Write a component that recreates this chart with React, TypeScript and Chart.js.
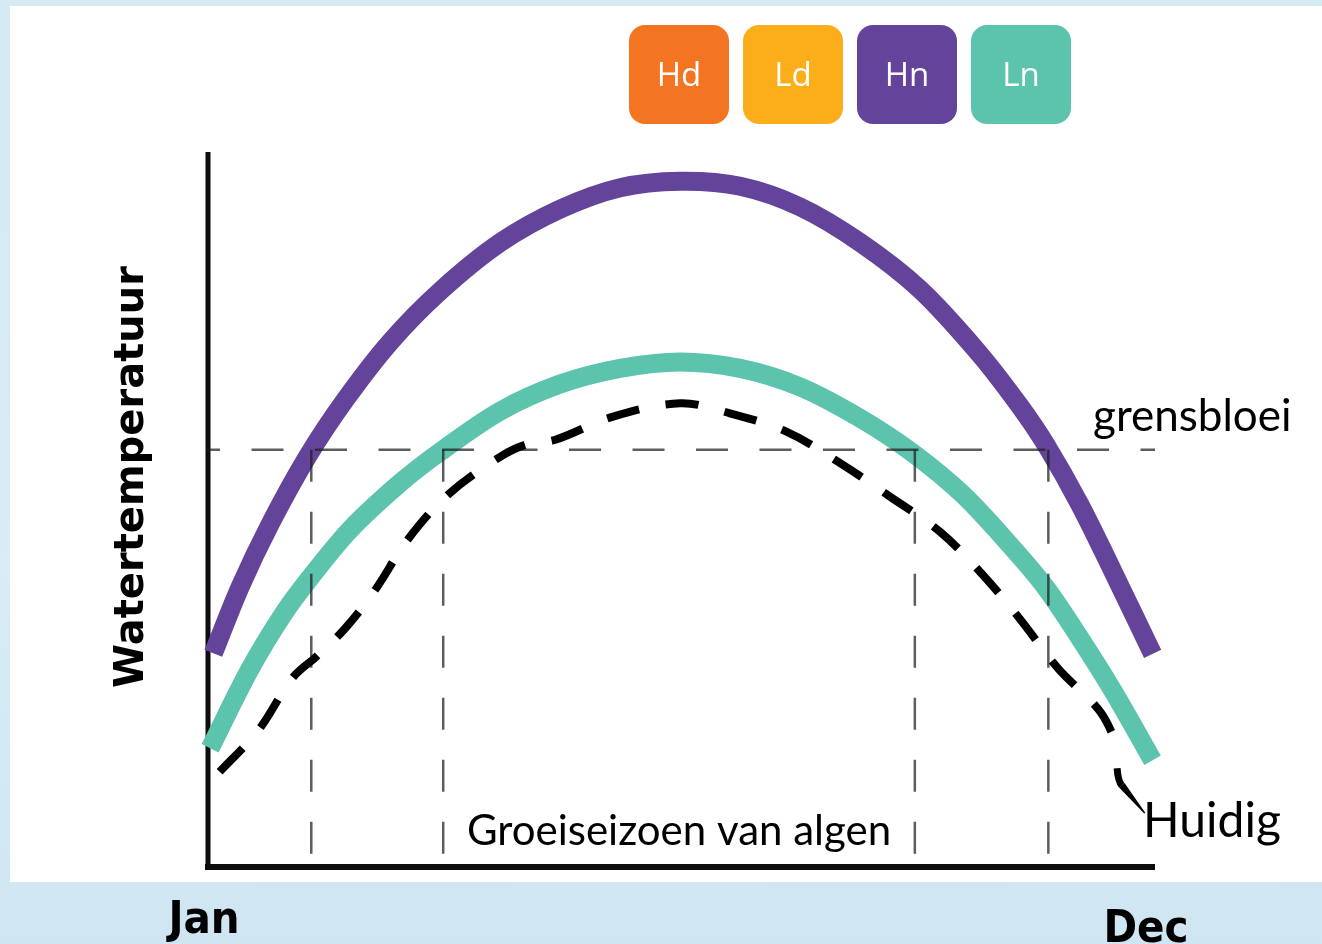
import React, { useEffect, useRef } from 'react';
import { Chart, registerables } from 'chart.js';

Chart.register(...registerables);

// x: months from Jan (0) to Dec (12); y: relative water temperature (0-100)
const xLabels = ['Jan', 'Dec'];
const xLabelValues = [0, 12];

const hnX = [0.08, 0.42, 0.8, 1.27, 1.75, 2.32, 2.95, 3.71, 4.47, 5.23, 5.99, 6.75, 7.51, 8.27, 9.03, 9.78, 10.29, 10.63, 11.05, 11.47, 11.97];
const hnY = [29.8, 39.1, 47.9, 57.3, 65.3, 73.4, 80.5, 87.3, 92.0, 95.0, 95.9, 95.2, 92.3, 87.3, 80.7, 71.7, 64.4, 58.8, 50.6, 41.2, 29.7];

const lnX = [0.04, 0.54, 0.96, 1.3, 1.81, 2.44, 2.95, 3.71, 4.47, 5.23, 5.99, 6.75, 7.51, 8.27, 8.94, 9.57, 10.2, 10.63, 11.05, 11.47, 11.97];
const lnY = [16.5, 27.5, 35.2, 40.3, 47.1, 53.6, 58.0, 63.7, 67.5, 69.7, 70.6, 69.7, 67.1, 62.7, 57.8, 52.0, 44.5, 38.8, 31.9, 24.5, 14.8];

const huidigX = [0.16, 0.65, 1.08, 1.39, 1.75, 2.13, 2.54, 3.05, 3.68, 4.03, 4.41, 5.13, 5.99, 6.62, 7.34, 7.99, 8.65, 9.28, 9.81, 10.29, 10.77, 11.3, 11.53];
const huidigY = [13.2, 19.0, 26.3, 29.4, 33.3, 38.7, 45.7, 52.0, 57.1, 59.0, 59.7, 62.9, 64.8, 63.4, 60.8, 56.6, 51.7, 46.8, 40.9, 34.6, 27.7, 21.7, 16.9];

// callout from the Huidig curve to its label
const huidigLeaderX = [11.52, 11.58, 11.87];
const huidigLeaderY = [13.7, 11.3, 7.4];

const grensbloei = [58.3];
const seasonBounds = [1.32, 2.99, 8.96, 10.65];
const seasonBottom = [1.2];

const legendLabels = ['Hd', 'Ld', 'Hn', 'Ln'];
const legendColors = ['#F37521', '#FBAE1A', '#64449B', '#5CC3AD'];

const toPts = (xs: number[], ys: number[]) => xs.map((x, i) => ({ x, y: ys[i] }));

export default function App() {
  const ref = useRef<HTMLCanvasElement>(null);

  useEffect(() => {
    const canvas = ref.current!;
    const guideColor = 'rgba(30,30,30,0.72)';

    const decor = {
      id: 'decor',
      beforeDatasetsDraw(chart: any) {
        const { ctx, chartArea: ca } = chart;
        ctx.save();
        ctx.strokeStyle = '#0d0d0d';
        ctx.lineCap = 'butt';
        ctx.lineWidth = 5;
        ctx.beginPath();
        ctx.moveTo(ca.left + 1, ca.top);
        ctx.lineTo(ca.left + 1, ca.bottom + 4);
        ctx.stroke();
        ctx.lineWidth = 6;
        ctx.beginPath();
        ctx.moveTo(ca.left - 2, ca.bottom + 1);
        ctx.lineTo(ca.right, ca.bottom + 1);
        ctx.stroke();
        ctx.restore();
      },
      afterDatasetsDraw(chart: any) {
        const { ctx, scales } = chart;
        const xs = scales.x;
        const ys = scales.y;
        ctx.save();

        // leader line of "Huidig"
        const lp = huidigLeaderX.map((x, i) => ({ x: xs.getPixelForValue(x), y: ys.getPixelForValue(huidigLeaderY[i]) }));
        ctx.strokeStyle = '#000';
        ctx.lineWidth = 7;
        ctx.lineCap = 'butt';
        ctx.beginPath();
        ctx.moveTo(lp[0].x, lp[0].y);
        ctx.quadraticCurveTo(lp[0].x + 1, lp[1].y - 4, lp[1].x, lp[1].y);
        ctx.stroke();
        const dx = lp[2].x - lp[1].x;
        const dy = lp[2].y - lp[1].y;
        const len = Math.hypot(dx, dy);
        const nx = -dy / len;
        const ny = dx / len;
        ctx.fillStyle = '#000';
        ctx.beginPath();
        ctx.moveTo(lp[1].x + nx * 3.5, lp[1].y + ny * 3.5);
        ctx.lineTo(lp[2].x + nx * 0.7, lp[2].y + ny * 0.7);
        ctx.lineTo(lp[2].x - nx * 0.7, lp[2].y - ny * 0.7);
        ctx.lineTo(lp[1].x - nx * 3.5, lp[1].y - ny * 3.5);
        ctx.closePath();
        ctx.fill();

        // texts
        ctx.fillStyle = '#000';
        ctx.textBaseline = 'alphabetic';

        ctx.save();
        ctx.translate(143, 477);
        ctx.rotate(-Math.PI / 2);
        ctx.textAlign = 'center';
        ctx.font = "bold 40px 'DejaVu Sans'";
        ctx.fillText('Watertemperatuur', 0, 0);
        ctx.restore();

        ctx.textAlign = 'center';
        ctx.font = "bold 45px 'DejaVu Sans Condensed', 'DejaVu Sans'";
        ctx.fillText(xLabels[0], xs.getPixelForValue(xLabelValues[0]) - 3, 933);
        ctx.fillText(xLabels[1], xs.getPixelForValue(xLabelValues[1]) - 9, 942);

        ctx.textAlign = 'left';
        ctx.font = "44px Lato";
        ctx.fillText('grensbloei', 1093, ys.getPixelForValue(grensbloei[0]) - 19);

        ctx.textAlign = 'center';
        ctx.font = "42px Lato";
        ctx.fillText('Groeiseizoen van algen', 679, 845);

        ctx.textAlign = 'left';
        ctx.font = "48px Lato";
        ctx.fillText('Huidig', 1143, 837);

        // legend tiles
        legendLabels.forEach((lab, i) => {
          const bx = 629 + i * 114;
          const by = 25;
          ctx.fillStyle = legendColors[i];
          ctx.beginPath();
          (ctx as any).roundRect(bx, by, 100, 99, 16);
          ctx.fill();
          ctx.fillStyle = '#ffffff';
          ctx.textAlign = 'center';
          ctx.textBaseline = 'alphabetic';
          ctx.font = "33px 'Open Sans'";
          ctx.fillText(lab, bx + 50, by + 61);
        });

        ctx.restore();
      },
    };

    const lineBase = { pointRadius: 0, fill: false, clip: false as any, borderCapStyle: 'butt' as const };

    const verticals = seasonBounds.map((v) => ({
      ...lineBase,
      label: 'seizoen',
      data: [{ x: v, y: grensbloei[0] }, { x: v, y: seasonBottom[0] }],
      borderColor: guideColor,
      borderWidth: 2.5,
      borderDash: [32, 30],
      tension: 0,
    }));

    const chart = new Chart(canvas, {
      type: 'line',
      data: {
        datasets: [
          {
            ...lineBase,
            label: 'Huidig',
            data: toPts(huidigX, huidigY),
            borderColor: '#000',
            borderWidth: 8,
            borderDash: [33, 27],
            tension: 0.35,
          },
          {
            ...lineBase,
            label: 'grensbloei',
            data: [{ x: 0, y: grensbloei[0] }, { x: 12, y: grensbloei[0] }],
            borderColor: guideColor,
            borderWidth: 2.5,
            borderDash: [32, 31.5],
            borderDashOffset: 19,
            tension: 0,
          },
          ...verticals,
          {
            ...lineBase,
            label: 'Hn',
            data: toPts(hnX, hnY),
            borderColor: '#64449B',
            borderWidth: 19,
            tension: 0.33,
          },
          {
            ...lineBase,
            label: 'Ln',
            data: toPts(lnX, lnY),
            borderColor: '#5CC3AD',
            borderWidth: 19,
            tension: 0.33,
          },
        ] as any,
      },
      options: {
        responsive: false,
        animation: false,
        devicePixelRatio: 1,
        layout: { padding: { left: 207, right: 167, top: 152, bottom: 78 } },
        scales: {
          x: { type: 'linear', min: 0, max: 12, display: false },
          y: { type: 'linear', min: 0, max: 100, display: false },
        },
        plugins: { legend: { display: false }, tooltip: { enabled: false } },
        events: [],
      },
      plugins: [decor],
    });

    return () => chart.destroy();
  }, []);

  return (
    <div
      style={{
        position: 'fixed',
        left: 0,
        top: 0,
        width: 1322,
        height: 944,
        overflow: 'hidden',
        background: 'linear-gradient(180deg, #d6eaf4 0%, #d9ecf6 60%, #cfe6f2 100%)',
      }}
    >
      <div style={{ position: 'absolute', left: 10, top: 6, width: 1312, height: 876, background: '#ffffff' }} />
      <canvas
        ref={ref}
        width={1322}
        height={944}
        style={{ position: 'absolute', left: 0, top: 0, width: 1322, height: 944 }}
      />
    </div>
  );
}
